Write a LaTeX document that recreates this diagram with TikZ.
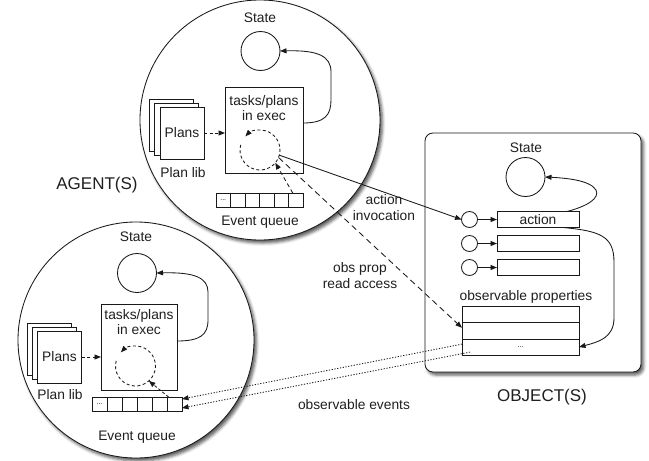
\documentclass[tikz,border=0pt]{standalone}
\usepackage{fontspec}
\setmainfont{Liberation Sans}
\usetikzlibrary{arrows.meta,shadows.blur,calc}
\begin{document}
\begin{tikzpicture}[x=1pt,y=-1pt,
  every node/.style={inner sep=0pt, outer sep=0pt},
  txt/.style={font=\fontsize{13.8}{15.5}\selectfont, text=black!88, align=center},
  biglbl/.style={font=\fontsize{17}{20}\selectfont, text=black!88},
  tinytxt/.style={font=\fontsize{7}{8}\selectfont},
  ln/.style={line width=0.85pt, draw=black!90},
  tip/.style={-{Triangle[length=6.5pt,width=5pt]}},
  shad/.style={blur shadow={shadow xshift=2.5pt, shadow yshift=-3pt, shadow blur radius=3pt, shadow opacity=65}},
  bigcirc/.style={circle, ln, fill=white, shad},
  statec/.style={circle, ln, minimum size=39pt},
  taskbox/.style={rectangle, ln, fill=white},
  page/.style={rectangle, ln, fill=white, minimum width=44pt, minimum height=52pt},
  qcell/.style={rectangle, ln, minimum height=14pt},
  dcirc/.style={circle, minimum size=40pt},
  shortdash/.style={dash pattern=on 3pt off 2.5pt},
  longdash/.style={dash pattern=on 6pt off 4pt},
  dotpat/.style={dash pattern=on 1.2pt off 1.6pt},
]
\useasboundingbox (0,0) rectangle (649,461);

% containers
\node[bigcirc, minimum size=240pt] (aC) at (260,120) {};
\node[bigcirc, minimum size=236pt] (bC) at (136,340) {};
\node[rectangle, rounded corners=8pt, ln, fill=white, shad, minimum width=216pt, minimum height=239pt] (oB) at (533,252.5) {};

% ---------- top agent ----------
\node[txt] (aSL) at (260,18) {State};
\node[statec] (aS) at (260.5,51) {};
\node[taskbox, minimum width=78pt, minimum height=86pt] (aT) at (264,130) {};
\node[txt] (aTL) at (264,108) {tasks/plans\\in exec};
\node[page] (aP1) at (171.5,125) {};
\node[page] (aP2) at (176.75,129) {};
\node[page, txt] (aP3) at (182,133) {Plans};
\node[txt] (aPL) at (183,173) {Plan lib};
\draw[ln, shortdash, tip] (aP3.east) -- (aP3.east -| aT.west);
\coordinate (aDc) at (260,150);
\node[dcirc] (aD) at (aDc) {};
\draw[ln, shortdash, tip] ([shift={(-165:20)}]aDc) arc[start angle=-165, end angle=-497, radius=20];
\foreach \k in {0,...,5} {
  \node[qcell, minimum width=14.5pt] (aQ\k) at ({223.25+14.5*\k},200) {};
}
\node[tinytxt] (aQd) at (aQ0) {...};
\node[txt] (aEQ) at (260,222) {Event queue};
\draw[ln, dash pattern=on 4pt off 3pt, tip] ([xshift=-3pt]aQ5.north) -- (aD.-40);
\draw[ln, tip] ([yshift=7pt]aT.east) .. controls (325,123) and (331,115) .. (331,100) -- (331,72) .. controls (331,56) and (318,50) .. (aS.east);

% ---------- bottom agent ----------
\node[txt] (bSL) at (136,237) {State};
\node[statec] (bS) at (137,273) {};
\node[taskbox, minimum width=76pt, minimum height=86pt] (bT) at (139,347) {};
\node[txt] (bTL) at (139,322) {tasks/plans\\in exec};
\node[page] (bP1) at (49.5,349) {};
\node[page] (bP2) at (54.5,353) {};
\node[page, txt] (bP3) at (59.5,357) {Plans};
\node[txt] (bPL) at (60,395) {Plan lib};
\draw[ln, shortdash, tip] (bP3.east) -- (bP3.east -| bT.west);
\coordinate (bDc) at (135.5,366);
\node[dcirc] (bD) at (bDc) {};
\draw[ln, shortdash, tip] ([shift={(-165:20)}]bDc) arc[start angle=-165, end angle=-497, radius=20];
\foreach \k in {0,...,5} {
  \node[qcell, minimum width=15pt] (bQ\k) at ({99.5+15*\k},404) {};
}
\node[tinytxt] (bQd) at (bQ0) {...};
\node[txt] (bEQ) at (137,437) {Event queue};
\draw[ln, dash pattern=on 3pt off 2pt, tip] ([xshift=-6pt]bQ5.north) -- (bD.-48);
\draw[ln, tip] ([yshift=6pt]bT.east) .. controls (200,341) and (208,335) .. (208,320) -- (208,292) .. controls (208,278) and (195,272) .. (bS.east);

% ---------- object ----------
\node[txt] (oSL) at (526,148) {State};
\node[statec] (oS) at (525.5,177) {};
\foreach \i/\y in {1/219.5,2/243.5,3/267.5} {
  \node[circle, ln, minimum size=16pt] (oC\i) at (469.5,\y) {};
  \node[rectangle, ln, minimum width=82pt, minimum height=16pt] (oR\i) at (538,\y) {};
  \draw[ln, tip] (oC\i.east) -- (oR\i.west);
}
\node[txt] (oAL) at (oR1) {action};
\node[txt] (oOP) at (526,297) {observable properties};
\foreach \i/\y in {1/314.5,2/330.8,3/347.1} {
  \node[rectangle, ln, minimum width=117pt, minimum height=16.3pt] (oP\i) at (520.5,\y) {};
}
\node[tinytxt] (oPd) at (oP3) {...};
\draw[ln, tip] ([xshift=-12pt]oR1.north east) .. controls (588,206) and (600,198) .. (596,190) .. controls (590,180) and (565,178) .. (oS.east);
\draw[ln, tip] ([xshift=-16pt]oR1.south east) .. controls (600,231) and (614,236) .. (614,262) -- (614,318) .. controls (614,338) and (598,342) .. (oP3.east);

% ---------- connectors between agent and object ----------
\draw[ln, tip] (aD.-15) -- (oC1.west);
\draw[ln, longdash, tip] (aD.-22) -- ([yshift=3pt]oP2.west);
\draw[ln, dotpat, tip] ([yshift=3pt]oP3.west) -- ([yshift=5pt]bQ5.east);
\draw[ln, dotpat, tip] ([shift={(8pt,-5pt)}]oP3.west) -- ([yshift=-4pt]bQ5.east);

% ---------- labels ----------
\node[txt] (lAI) at (384,207.5) {action\\invocation};
\node[txt] (lOP) at (360,275.5) {obs prop\\read access};
\node[txt] (lOE) at (354,405) {observable events};
\node[biglbl] (lAg) at (97,185) {AGENT(S)};
\node[biglbl] (lOb) at (542,397) {OBJECT(S)};
\end{tikzpicture}
\end{document}
